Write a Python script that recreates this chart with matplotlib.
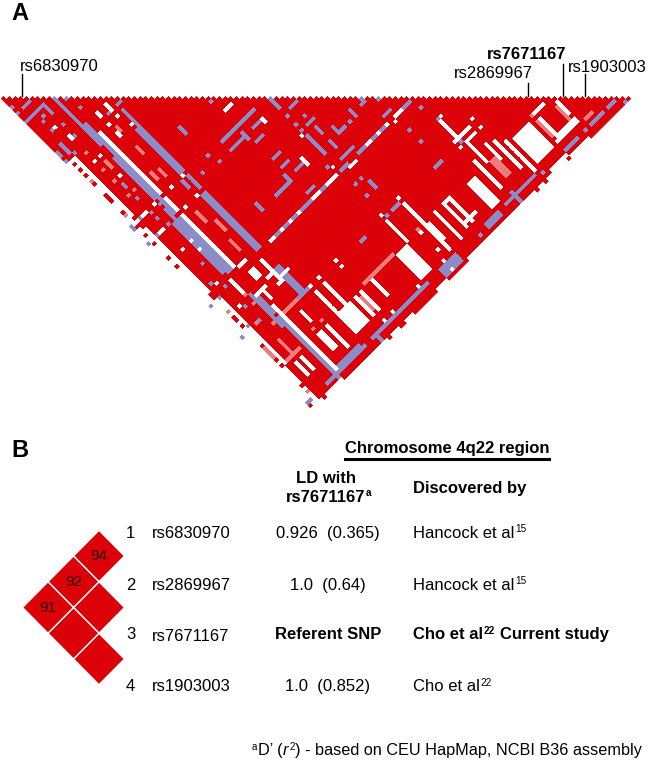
# LD triangle and SNP table
import numpy as np
import matplotlib
matplotlib.use("Agg")
import matplotlib.pyplot as plt
from matplotlib.colors import to_rgba
from matplotlib.transforms import Affine2D

plt.rcParams['font.family'] = ['Liberation Sans', 'DejaVu Sans']

# number of SNPs in the haploview triangle
n_snps = 112

# colour classes of the LD cells
class_colors = ["#DC0008", "#8C8CC8", "#FFFFFF", "#EE7C7C", "#F6BDBD", "#E62A2A"]
RED, PERI, WHITE, PINK, LIGHT, SOFT = range(6)

# runs with a fixed first SNP: (i, first j, last j)
peri_down = [(9, 10, 26), (10, 20, 48), (9, 31, 47), (10, 49, 71), (9, 49, 71), (8, 53, 70), (9, 79, 90), (10, 79, 109),
             (19, 24, 45), (18, 30, 45), (19, 47, 51), (19, 53, 72), (18, 53, 72), (17, 47, 49),
             (19, 79, 88), (18, 79, 88), (6, 9, 12), (47, 48, 51), (26, 37, 39), (26, 64, 66),
             (59, 64, 66), (53, 64, 66), (50, 61, 63), (47, 61, 67), (50, 66, 68), (36, 64, 66),
             (50, 80, 82), (36, 49, 51), (73, 107, 110), (24, 108, 110), (2, 19, 22), (0, 20, 21)]
white_down = [(11, 24, 45), (11, 47, 51), (11, 53, 71), (11, 85, 108), (2, 24, 44), (2, 49, 71),
              (1, 24, 110), (0, 24, 107), (2, 73, 110), (3, 74, 97),
              (42, 50, 51), (42, 64, 66), (52, 90, 106), (46, 90, 97), (24, 90, 97), (21, 90, 98),
              (15, 91, 94), (14, 98, 103), (15, 98, 103), (17, 98, 105), (14, 75, 77), (13, 75, 77),
              (8, 73, 77), (12, 80, 83), (17, 75, 82), (5, 99, 103), (7, 99, 103),
              (21, 98, 104), (22, 98, 104), (23, 98, 104), (24, 98, 104), (25, 98, 104),
              (42, 98, 106), (43, 98, 106), (44, 98, 106), (45, 98, 106),
              (33, 98, 103), (27, 98, 104), (29, 98, 104),
              (56, 97, 106), (59, 97, 105), (61, 97, 105), (53, 98, 103), (72, 95, 104),
              (67, 98, 106), (68, 98, 106), (69, 98, 106), (74, 90, 97), (77, 94, 99),
              (79, 95, 104), (81, 97, 107), (73, 82, 87), (97, 99, 103), (91, 99, 104),
              (83, 98, 106), (84, 98, 106), (85, 98, 106), (86, 98, 106), (87, 98, 106), (88, 98, 106)]
pink_down = [(28, 99, 103), (75, 98, 103), (76, 98, 103), (96, 100, 104), (90, 99, 104),
             (15, 26, 27), (15, 33, 35), (15, 41, 43), (13, 40, 42), (7, 30, 32), (6, 92, 96),
             (14, 55, 58), (16, 60, 63), (15, 66, 69)]

# runs with a fixed second SNP: (j, first i, last i)
peri_up = [(9, 0, 6), (6, 2, 4), (47, 31, 33), (47, 34, 42), (50, 39, 41), (50, 31, 36),
           (53, 37, 39), (59, 37, 39), (62, 37, 39), (53, 49, 51), (59, 49, 51), (65, 39, 41),
           (66, 34, 36), (66, 31, 33), (71, 37, 39), (66, 53, 55), (71, 64, 66), (73, 69, 71),
           (71, 49, 53), (73, 47, 49), (73, 39, 41), (73, 53, 55), (73, 24, 36), (73, 58, 63),
           (89, 49, 51), (89, 64, 66), (109, 99, 103), (109, 105, 107), (109, 91, 94),
           (108, 70, 80), (108, 7, 20), (107, 12, 19), (108, 23, 42), (108, 0, 1),
           (108, 63, 67), (109, 63, 67), (108, 47, 52), (109, 47, 52), (110, 47, 52),
           (88, 17, 20), (22, 19, 20)]
white_up = [(42, 37, 39), (97, 91, 94), (106, 90, 97), (105, 91, 97), (90, 74, 77), (88, 73, 77),
            (104, 59, 63), (97, 59, 61), (74, 49, 51), (73, 42, 45), (73, 37, 39), (73, 56, 57),
            (46, 1, 2), (46, 3, 5), (52, 4, 5), (110, 84, 89), (111, 0, 25), (111, 27, 29),
            (111, 32, 34), (111, 43, 46), (111, 54, 77), (111, 79, 80), (111, 82, 88), (111, 90, 96),
            (110, 0, 3), (110, 5, 10), (72, 12, 14), (81, 18, 20), (80, 10, 13)]
pink_up = [(88, 12, 16), (107, 99, 101), (97, 31, 41), (110, 86, 89), (97, 4, 8)]

# single cells: (i, j)
peri_cells = [(9, 10), (11, 12), (0, 4), (0, 6), (4, 11), (3, 12), (3, 15), (6, 16), (12, 16),
              (16, 22), (6, 20), (0, 21), (3, 23), (0, 23), (6, 37), (6, 38), (6, 42), (0, 46), (0, 47),
              (3, 46), (3, 52), (0, 52), (6, 47), (6, 49), (7, 52), (6, 65), (4, 70), (6, 73),
              (3, 74), (0, 74), (3, 84), (0, 85), (6, 85), (6, 80), (26, 47), (22, 49), (36, 38), (27, 50),
              (62, 65), (63, 65), (63, 64), (66, 67), (57, 66), (72, 76), (66, 78), (66, 82),
              (47, 54), (50, 57), (47, 57), (47, 59), (49, 78), (47, 78), (47, 82), (47, 89),
              (39, 89), (38, 89), (73, 81), (73, 89), (64, 89), (60, 109), (82, 109), (90, 109),
              (97, 109), (109, 111), (29, 108), (45, 70)]
white_cells = [(4, 15), (5, 19), (5, 20), (5, 28), (7, 28), (7, 35), (14, 20), (14, 21), (17, 20), (17, 21),
               (17, 22), (17, 24), (14, 24), (14, 27), (14, 28), (18, 28), (18, 46), (14, 46), (13, 52),
               (17, 52), (8, 46), (5, 59), (8, 62), (8, 59), (5, 71), (5, 79), (16, 79), (16, 82), (15, 79),
               (23, 73), (26, 73), (29, 73), (32, 73), (22, 73), (46, 60), (46, 71),
               (65, 74), (60, 73), (63, 73), (30, 88), (30, 90), (24, 88), (21, 88), (52, 88), (46, 88),
               (74, 81), (72, 88), (72, 90), (79, 87), (79, 90), (50, 98), (50, 104), (66, 73), (67, 73),
               (68, 73), (28, 107), (31, 107), (40, 107), (49, 107), (49, 110)]
pink_cells = [(90, 97), (5, 25), (5, 31), (5, 35), (5, 40), (7, 40), (5, 85), (8, 88), (8, 81), (8, 78),
              (15, 35), (17, 96), (14, 96), (50, 97), (1, 31), (1, 43), (2, 78), (2, 91), (2, 92),
              (2, 93), (2, 94), (2, 106)]
red_cells = [(26, 111), (31, 111), (35, 111), (36, 111), (37, 111), (38, 111), (39, 111), (40, 111), (41, 111),
             (42, 111), (78, 111), (89, 111), (4, 110), (2, 104), (1, 25), (1, 27), (1, 29), (1, 32), (1, 36),
             (1, 37), (1, 38), (1, 42), (1, 47), (1, 50), (1, 53), (1, 58), (1, 61), (2, 73), (2, 80), (2, 81), (2, 83),
             (2, 90), (2, 95), (2, 97), (9, 46), (10, 52), (10, 79), (10, 87)]

snp_names = ["rs6830970", "rs2869967", "rs7671167", "rs1903003"]
ld_values = ["0.926  (0.365)", "1.0  (0.64)", "Referent SNP", "1.0  (0.852)"]
found_by = [("Hancock et al", "15", ""), ("Hancock et al", "15", ""),
            ("Cho et al", "22", " Current study"), ("Cho et al", "22", "")]
small_pairs = [(1, 2), (2, 3), (3, 4), (1, 3), (2, 4), (1, 4)]
small_labels = ["94", "", "", "92", "", "91"]


def build_matrix():
    cells = np.full((n_snps, n_snps), RED)
    for runs, cat in [(pink_down, PINK), (peri_down, PERI), (white_down, WHITE)]:
        for i, j1, j2 in runs:
            cells[i, j1:j2 + 1] = cat
    for runs, cat in [(pink_up, PINK), (peri_up, PERI), (white_up, WHITE)]:
        for j, i1, i2 in runs:
            cells[i1:i2 + 1, j] = cat
    for pairs, cat in [(pink_cells, PINK), (peri_cells, PERI), (white_cells, WHITE), (red_cells, RED)]:
        for i, j in pairs:
            cells[i, j] = cat
    return cells


W, H = 648, 761
fig = plt.figure(figsize=(W / 100, H / 100), dpi=100)


def axes_px(x0, y0, x1, y1):
    return fig.add_axes([x0 / W, 1 - y1 / H, (x1 - x0) / W, (y1 - y0) / H])


# Panel A, mid = (i + j) / 2, depth = j - i
ax = axes_px(1, 96.2, 1 + 5.67 * 112.2, 96.2 + 2.835 * 112.2)
matrix = build_matrix()
rgba = np.array([to_rgba(c) for c in class_colors])[matrix]
rgba[np.tril_indices(n_snps)] = (1, 1, 1, 0)
shear = Affine2D.from_values(0.5, 1, 0.5, -1, 0, 0)
ax.imshow(rgba, interpolation="nearest", aspect="auto", transform=shear + ax.transData)
ax.set_xlim(0, 112.2)
ax.set_ylim(112.2, 0)
ax.axis("off")

# Panel B small triangle, on its side
ax2 = axes_px(22.5, 530.25, 124.5, 684.75)
ax2.set_xlim(4, 0)
ax2.set_ylim(4, 1)
ax2.axis("off")
for (a, b), lab in zip(small_pairs, small_labels):
    m, d = (a + b) / 2, b - a
    ax2.add_patch(plt.Polygon([(d, m - 0.5), (d + 1, m), (d, m + 0.5), (d - 1, m)],
                              facecolor=class_colors[RED], edgecolor="white", lw=1))
    ax2.text(d, m, lab, ha="center", va="center", fontsize=11, color="#300000")

# text layer, in pixels of the page
page = fig.add_axes([0, 0, 1, 1], facecolor="none")
page.set_xlim(0, W)
page.set_ylim(H, 0)
page.axis("off")
renderer = fig.canvas.get_renderer()


def run_text(x, y, parts, size=12, **kw):
    # text with small raised pieces, parts are (string, raised)
    for s, raised in parts:
        if not s:
            continue
        if s.startswith(" "):
            x += size * 0.278 * 100 / 72
            s = s.lstrip()
        t = page.text(x, y - (5.5 if raised else 0), s, fontsize=size * 0.6 if raised else size, **kw)
        x = t.get_window_extent(renderer).x1 + 0.6
    return x


page.text(11, 20, "A", fontsize=17, fontweight="bold")
page.text(11, 457, "B", fontsize=17, fontweight="bold")

ft = 12
page.text(20, 71, "rs6830970", fontsize=ft)
page.text(454, 78, "rs2869967", fontsize=ft)
page.text(487, 59, "rs7671167", fontsize=ft, fontweight="bold")
page.text(568, 72, "rs1903003", fontsize=ft)
for x, y in [(22, 74), (528, 83), (563, 64), (585, 74)]:
    page.plot([x, x], [y, 96], color="black", lw=1)

page.text(345, 453, "Chromosome 4q22 region", fontsize=ft, fontweight="bold")
page.plot([345, 549], [459, 459], color="black", lw=2.2)
page.text(325.5, 483, "LD with", fontsize=ft, fontweight="bold", ha="center")
run_text(286, 502, [("rs7671167", False), ("a", True)], fontweight="bold")
page.text(413, 493, "Discovered by", fontsize=ft, fontweight="bold")

row_y = [538, 590, 639, 691]
for k, y in enumerate(row_y):
    weight = "bold" if k == 2 else "normal"
    page.text(126, y, str(k + 1), fontsize=ft)
    page.text(152, y + (2 if k == 2 else 0), snp_names[k], fontsize=ft)
    page.text(328, y, ld_values[k], fontsize=ft, ha="center", fontweight=weight)
    name, ref, rest = found_by[k]
    run_text(413, y, [(name, False), (ref, True), (rest, False)], fontweight=weight)

fn = 11.7
x = run_text(252, 755, [("a", True), ("D’ (", False)], size=fn)
x = run_text(x, 755, [("r", False)], size=fn, style="italic")
run_text(x, 755, [("2", True), (") - based on CEU HapMap, NCBI B36 assembly", False)], size=fn)

fig.savefig("out.png", dpi=100)
